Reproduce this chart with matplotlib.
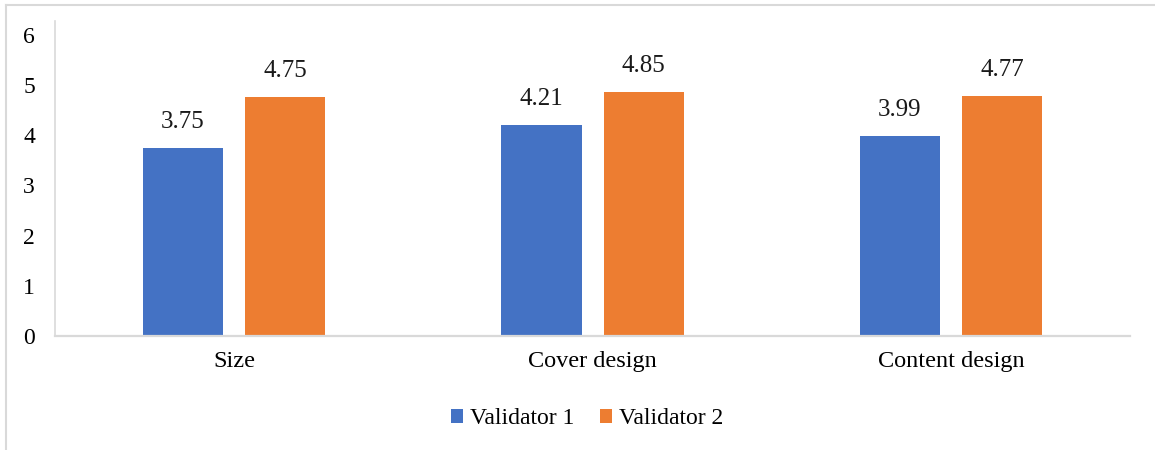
import numpy as np
import matplotlib.pyplot as plt
from matplotlib.lines import Line2D

# Validation scores per aspect
categories = ["Size", "Cover design", "Content design"]
validator_1 = [3.75, 4.21, 3.99]
validator_2 = [4.75, 4.85, 4.77]
series_names = ["Validator 1", "Validator 2"]

blue = "#4472C4"
orange = "#ED7D31"
grid_gray = "#D9D9D9"

plt.rcParams["font.family"] = ["Liberation Serif", "DejaVu Serif"]

fig = plt.figure(figsize=(11.55, 4.5), dpi=100)
ax = fig.add_axes([0.0476, 0.2533, 0.9308, 0.7])

x = np.arange(len(categories))
width = 0.224
offset = 0.1427

b1 = ax.bar(x - offset, validator_1, width, color=blue, label=series_names[0])
b2 = ax.bar(x + offset, validator_2, width, color=orange, label=series_names[1])

for bars, vals in ((b1, validator_1), (b2, validator_2)):
    for rect, v in zip(bars, vals):
        ax.annotate(f"{v:.2f}", (rect.get_x() + rect.get_width() / 2, v),
                    xytext=(0, 15), textcoords="offset pixels",
                    ha="center", va="bottom", fontsize=18, color="#1a1a1a")

ax.set_xlim(-0.5, 2.5)
ax.set_ylim(0, 6.27)
ax.set_yticks(range(0, 7))
ax.set_xticks(x)
ax.set_xticklabels(categories, fontsize=17.5)
ax.tick_params(axis="y", labelsize=17, length=0, pad=14.4)
ax.tick_params(axis="x", length=0, pad=11)

for side in ("top", "right"):
    ax.spines[side].set_visible(False)
ax.spines["left"].set_color(grid_gray)
ax.spines["bottom"].set_color(grid_gray)
ax.spines["left"].set_linewidth(1.2)
ax.spines["bottom"].set_linewidth(1.6)

ax.legend(loc="center", bbox_to_anchor=(0.495, -0.263), ncol=2, frameon=False,
          fontsize=17, handlelength=0.5, handleheight=0.5,
          handletextpad=0.3, columnspacing=1.08)

# Outer chart border
fig.add_artist(Line2D([0.0052, 0.0052], [0, 0.988], transform=fig.transFigure,
                      color=grid_gray, lw=1.5))
fig.add_artist(Line2D([0.0052, 1.0], [0.988, 0.988], transform=fig.transFigure,
                      color=grid_gray, lw=1.5))

fig.savefig("out.png", dpi=100)
